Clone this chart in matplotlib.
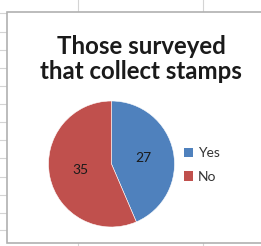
import matplotlib
matplotlib.use('Agg')
import matplotlib.pyplot as plt
from matplotlib.lines import Line2D
from matplotlib.patches import Rectangle, Patch

categories = ['Yes', 'No']
counts = [27, 35]
colors = ['#4F81BD', '#C0504D']
title = 'Those surveyed\nthat collect stamps'

W, H = 261, 246
plt.rcParams['font.family'] = ['Lato', 'DejaVu Sans']

fig = plt.figure(figsize=(W / 100, H / 100), dpi=100)
fig.patch.set_facecolor('white')

def fx(x):
    return x / W

def fy(y):
    return 1 - y / H

# spreadsheet gridlines behind the chart
for y in [13, 32, 50, 68, 86, 104, 122, 140, 158, 177, 195, 213, 230]:
    fig.add_artist(Line2D([0, 1], [fy(y), fy(y)], color='#D4D4D4', lw=0.8, zorder=-3))
for x in [78, 203]:
    fig.add_artist(Line2D([fx(x), fx(x)], [0, 1], color='#D4D4D4', lw=0.8, zorder=-3))

# chart area
fig.add_artist(Rectangle((fx(7), fy(243)), fx(W + 5) - fx(7), fy(12) - fy(243),
                         facecolor='white', edgecolor='#B0B0B0', lw=1.2, zorder=-2))

fig.text(fx(141), fy(59), title, ha='center', va='center', fontsize=17.3,
         fontweight='bold', color='#1A1A1A', linespacing=1.15)

cx, cy, r = 111.5, 164, 63
ax = fig.add_axes([fx(cx - r), fy(cy + r), 2 * r / W, 2 * r / H])
total = sum(counts)
wedges, texts, autotexts = ax.pie(counts, colors=colors, startangle=90, counterclock=False,
                                  autopct=lambda p: f'{round(p * total / 100)}',
                                  pctdistance=0.51,
                                  wedgeprops=dict(edgecolor='white', linewidth=0.4),
                                  textprops=dict(fontsize=10, color='#1A1A1A'))
ax.set_xlim(-1, 1)
ax.set_ylim(-1, 1)
ax.set_aspect('auto')
ax.axis('off')

handles = [Patch(facecolor=c, edgecolor='none') for c in colors]
fig.legend(handles, categories, loc='center left', bbox_to_anchor=(fx(171), fy(165)),
           frameon=False, fontsize=10, handlelength=0.65, handleheight=0.65,
           handletextpad=0.4, labelspacing=0.85, labelcolor='#333333')

fig.savefig('out.png', dpi=100)
